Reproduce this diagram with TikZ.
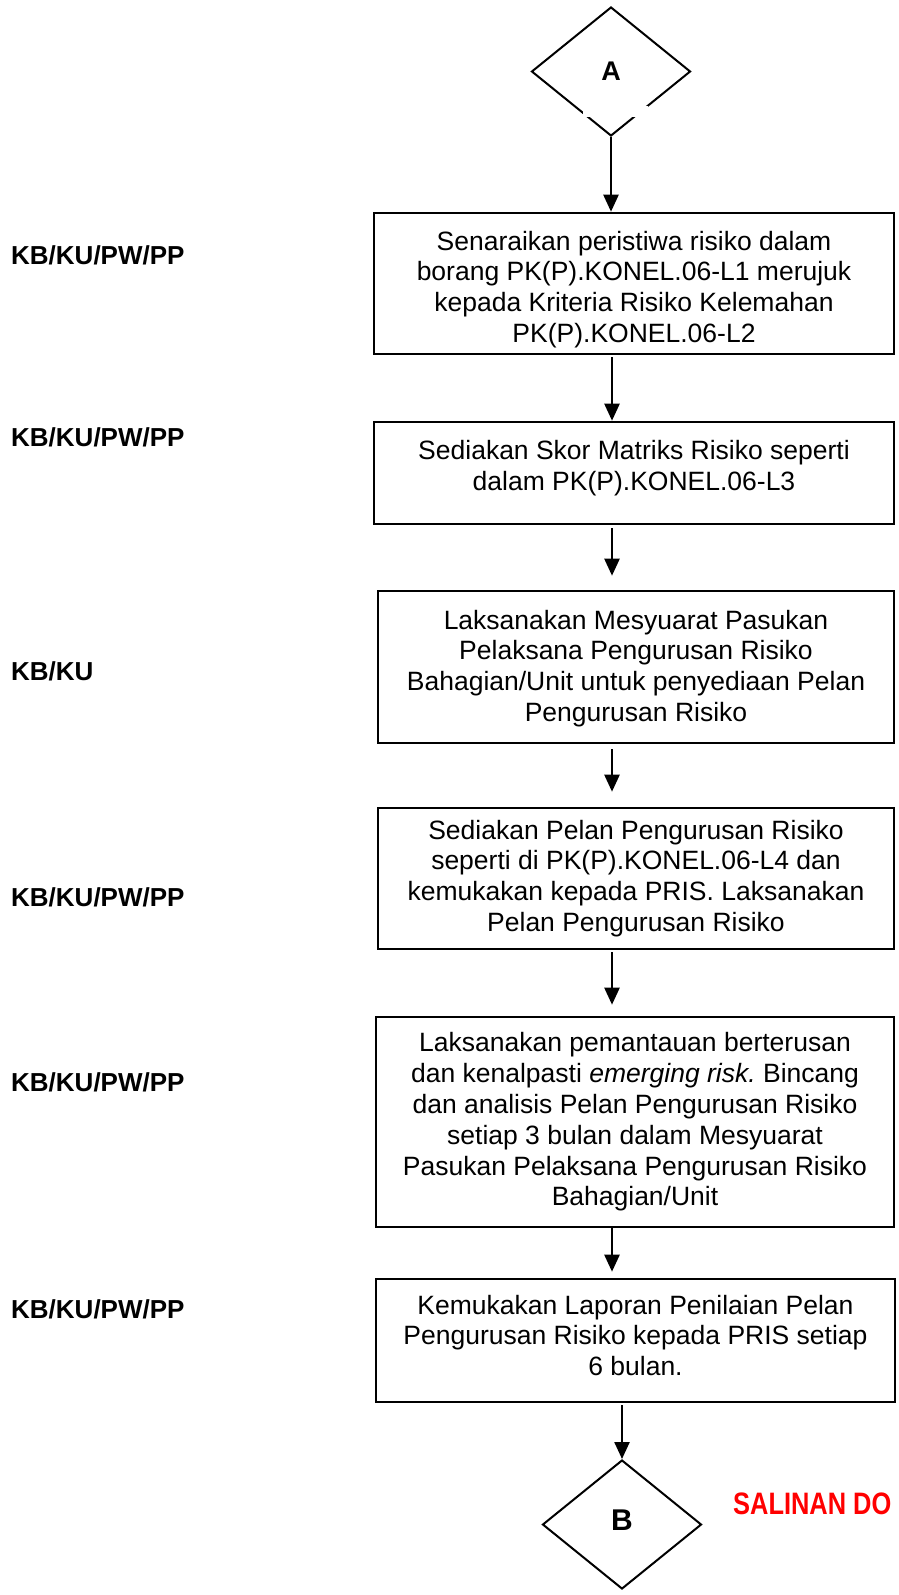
\documentclass[tikz,border=0pt]{standalone}
\usepackage{fontspec}
\setmainfont{Liberation Sans}
\newfontfamily\narrowbf[FakeStretch=0.82]{Liberation Sans Bold}
\usetikzlibrary{shapes.geometric,arrows.meta}
\begin{document}
\begin{tikzpicture}[x=1pt,y=-1pt,
  procbox/.style={draw, line width=2.6pt, rectangle, inner sep=0pt},
  boxtext/.style={inner sep=0pt, align=center, font=\fontsize{26.5}{30.8}\selectfont},
  dia/.style={draw, diamond, line width=2pt, inner sep=0pt,
    minimum width=159pt, minimum height=129pt, font=\bfseries\fontsize{27}{30}\selectfont},
  lbl/.style={anchor=base west, inner sep=0pt, font=\bfseries\fontsize{26}{30}\selectfont},
  arr/.style={line width=2.4pt, -{Triangle[width=15pt,length=17pt]}},
  note/.style={anchor=west, inner sep=0pt, text=red, font=\narrowbf\fontsize{31}{33}\selectfont}
]
\useasboundingbox (0,0) rectangle (898,1595);

% decision connectors
\node[dia] (dA) at (611,71.5) {A};
\fill[white] (583,106) rectangle (648,117);
\node[dia, font=\bfseries\fontsize{30}{32}\selectfont] (dB) at (622,1524.5) {};
\node[inner sep=0pt, font=\bfseries\fontsize{30}{32}\selectfont] (tB) at ([yshift=4pt]dB.center) {B};

% process boxes
\node[procbox, minimum width=520pt, minimum height=141pt] (b1) at (634,283.5) {};
\node[boxtext] (t1) at ([yshift=-6pt]b1.center)
  {Senaraikan peristiwa risiko dalam\\ borang PK(P).KONEL.06-L1 merujuk\\ kepada Kriteria Risiko Kelemahan\\ PK(P).KONEL.06-L2};
\node[procbox, minimum width=520pt, minimum height=102pt] (b2) at (634,473) {};
\node[boxtext] (t2) at ([yshift=5pt]b2.center)
  {Sediakan Skor Matriks Risiko seperti\\ dalam PK(P).KONEL.06-L3};
\node[procbox, minimum width=516pt, minimum height=152pt] (b3) at (636,667) {};
\node[boxtext] (t3) at ([yshift=-1.5pt]b3.center)
  {Laksanakan Mesyuarat Pasukan\\ Pelaksana Pengurusan Risiko\\ Bahagian/Unit untuk penyediaan Pelan\\ Pengurusan Risiko};
\node[procbox, minimum width=516pt, minimum height=141pt] (b4) at (636,878.5) {};
\node[boxtext] (t4) at (b4.center)
  {Sediakan Pelan Pengurusan Risiko\\ seperti di PK(P).KONEL.06-L4 dan\\ kemukakan kepada PRIS. Laksanakan\\ Pelan Pengurusan Risiko};
\node[procbox, minimum width=518pt, minimum height=210pt] (b5) at (635,1122) {};
\node[boxtext] (t5) at (b5.center)
  {Laksanakan pemantauan berterusan\\ dan kenalpasti \textit{emerging risk.}~Bincang\\ dan analisis Pelan Pengurusan Risiko\\ setiap 3 bulan dalam Mesyuarat\\ Pasukan Pelaksana Pengurusan Risiko\\ Bahagian/Unit};
\node[procbox, minimum width=519pt, minimum height=123pt] (b6) at (635.5,1340.5) {};
\node[boxtext] (t6) at ([yshift=5pt]b6.center)
  {Kemukakan Laporan Penilaian Pelan\\ Pengurusan Risiko kepada PRIS setiap\\ 6 bulan.};

% role labels
\node[lbl] (l1) at (11,264) {KB/KU/PW/PP};
\node[lbl] (l2) at (11,446.5) {KB/KU/PW/PP};
\node[lbl] (l3) at (11,680.5) {KB/KU};
\node[lbl] (l4) at (11,906.5) {KB/KU/PW/PP};
\node[lbl] (l5) at (11,1091.5) {KB/KU/PW/PP};
\node[lbl] (l6) at (11,1318.5) {KB/KU/PW/PP};

% watermark note
\node[note] (n1) at (733,1504) {SALINAN DO};

% connectors
\coordinate (ax) at (612,0);
\draw[arr] (dA.south) -- (dA.south |- b1.north);
\draw[arr, shorten <=2pt] (b1.south -| ax) -- (b2.north -| ax);
\draw[arr, shorten <=3pt, shorten >=14pt] (b2.south -| ax) -- (b3.north -| ax);
\draw[arr, shorten <=5pt, shorten >=15pt] (b3.south -| ax) -- (b4.north -| ax);
\draw[arr, shorten <=2pt, shorten >=11pt] (b4.south -| ax) -- (b5.north -| ax);
\draw[arr, shorten >=6pt] (b5.south -| ax) -- (b6.north -| ax);
\draw[arr, shorten <=2pt] (b6.south -| dB.north) -- (dB.north);
\end{tikzpicture}
\end{document}
